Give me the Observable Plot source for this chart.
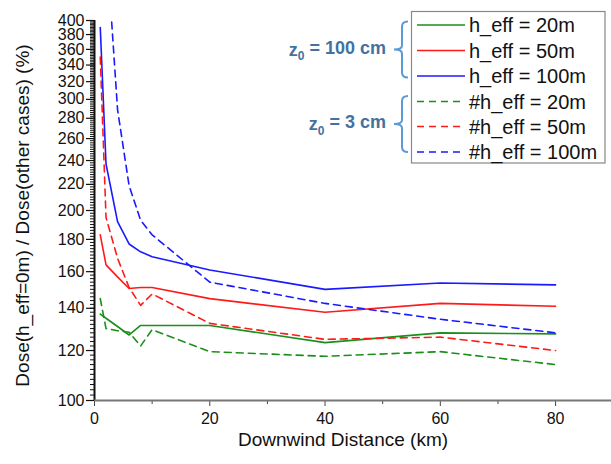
<!DOCTYPE html>
<html><head><meta charset="utf-8">
<script src="https://cdn.jsdelivr.net/npm/d3@7"></script>
<script src="https://cdn.jsdelivr.net/npm/@observablehq/plot@0.6"></script>
<style>
body{margin:0;background:#fff;}
#chart svg{font-family:Arial,"Liberation Sans",sans-serif;}
</style>
</head><body><div id="chart"></div>
<script>
// Downwind distances (km)
const distances = [1, 2, 4, 6, 8, 10, 20, 40, 60, 80];
// z0 = 100 cm (solid)
const z100_h20  = [137, 135, 131, 127, 131.5, 131.5, 131.5, 123.5, 128, 127.5];
const z100_h50  = [183, 164, 157, 150.5, 151, 151, 145, 138, 142.5, 141];
const z100_h100 = [390, 237, 192, 177, 172, 169, 161, 150, 153.5, 152.5];
// z0 = 3 cm (dashed)
const z3_h20  = [145, 130, 129, 128.3, 122, 129.5, 119.5, 117.5, 119.5, 114];
const z3_h50  = [350, 195, 168, 151, 141.5, 147.5, 132.5, 125, 126, 120];
const z3_distances_h100 = [2, 4, 6, 8, 10, 20, 40, 60, 80];
const z3_h100 = [540, 289, 219, 193, 183, 154, 142.5, 134.5, 128];

const seriesNames = ["h_eff = 20m", "h_eff = 50m", "h_eff = 100m", "#h_eff = 20m", "#h_eff = 50m", "#h_eff = 100m"];
const seriesColors = ["#1a8f1a", "#ff1a1a", "#1a1aff", "#1a8f1a", "#ff1a1a", "#1a1aff"];
const groupLabels = ["100 cm", "3 cm"];
const xTicks = [0, 20, 40, 60, 80];
const xMinorTicks = [10, 30, 50, 70];
const yTicks = d3.range(100, 401, 20);
const yMinorTicks = d3.range(100, 401, 2);
const xTitle = "Downwind Distance (km)";
const yTitle = "Dose(h_eff=0m) / Dose(other cases) (%)";

function rowsOf(name, xs, vs, solid) {
  return xs.map((d, i) => ({distance: d, value: vs[i], series: name, solid}));
}
const rows = [
  ...rowsOf(seriesNames[0], distances, z100_h20, true),
  ...rowsOf(seriesNames[1], distances, z100_h50, true),
  ...rowsOf(seriesNames[2], distances, z100_h100, true),
  ...rowsOf(seriesNames[3], distances, z3_h20, false),
  ...rowsOf(seriesNames[4], distances, z3_h50, false),
  ...rowsOf(seriesNames[5], z3_distances_h100, z3_h100, false)
];

const chart = Plot.plot({
  width: 611, height: 464,
  marginLeft: 94, marginRight: 0, marginTop: 20, marginBottom: 64,
  style: {fontFamily: "Arial, 'Liberation Sans', sans-serif", fontSize: "16px", color: "#111", background: "#fff"},
  x: {domain: [0, 89.7], label: null},
  y: {type: "log", domain: [100, 400], label: null},
  color: {domain: seriesNames, range: seriesColors},
  marks: [
    Plot.axisY(yMinorTicks, {tickSize: 4, text: null, strokeWidth: 1, stroke: "#111"}),
    Plot.axisY(yTicks, {tickSize: 8, tickPadding: 2, fontSize: 16, strokeWidth: 1.2, stroke: "#111", label: null}),
    Plot.axisX(xMinorTicks, {tickSize: 4, text: null, stroke: "#444"}),
    Plot.axisX(xTicks, {tickSize: 6, tickPadding: 6, fontSize: 16, stroke: "#444", label: null}),
    Plot.ruleX([0], {stroke: "#111", strokeWidth: 2}),
    Plot.ruleY([100], {stroke: "#777", strokeWidth: 2}),
    Plot.line(rows.filter(d => d.solid), {x: "distance", y: "value", z: "series", stroke: "series", strokeWidth: 1.6}),
    Plot.line(rows.filter(d => !d.solid), {x: "distance", y: "value", z: "series", stroke: "series", strokeWidth: 1.6, strokeDasharray: "7,5", clip: true}),
    Plot.text([xTitle], {frameAnchor: "bottom", dy: 45, dx: -10, fontSize: 19, fill: "#111"}),
    Plot.text([yTitle], {frameAnchor: "left", textAnchor: "middle", rotate: -90, dx: -72, dy: 5, fontSize: 19, fill: "#111"})
  ]
});
document.getElementById("chart").appendChild(chart);

// Legend with group annotations
const svg = d3.select(chart);
const lg = svg.append("g").attr("font-family", "Arial, 'Liberation Sans', sans-serif").attr("text-anchor", "start");
lg.append("rect").attr("x", 411.5).attr("y", 11.5).attr("width", 193.5).attr("height", 151.5)
  .attr("fill", "#fff").attr("stroke", "#888").attr("stroke-width", 1.2);
const rowY = [25, 50.5, 76, 101.5, 126.5, 152];
seriesNames.forEach((name, i) => {
  lg.append("line").attr("x1", 417).attr("x2", 465).attr("y1", rowY[i]).attr("y2", rowY[i])
    .attr("stroke", seriesColors[i]).attr("stroke-width", 1.6)
    .attr("stroke-dasharray", i < 3 ? null : "7,5");
  lg.append("text").attr("x", 469).attr("y", rowY[i]).attr("dy", "0.36em").attr("text-anchor", "start")
    .attr("font-size", 20).attr("fill", "#111").text(name);
});
// braces
function brace(top, bottom) {
  const mid = (top + bottom) / 2, xr = 408, xs = 402, xp = 394;
  return `M${xr},${top} Q${xs},${top} ${xs},${top + 5} L${xs},${mid - 4} Q${xs},${mid} ${xp},${mid} Q${xs},${mid} ${xs},${mid + 4} L${xs},${bottom - 5} Q${xs},${bottom} ${xr},${bottom}`;
}
[[21.5, 77.5], [96, 152]].forEach(([t, b], i) => {
  lg.append("path").attr("d", brace(t, b)).attr("fill", "none").attr("stroke", "#5b9bd5").attr("stroke-width", 2);
  const tx = lg.append("text").attr("x", 386).attr("y", (t + b) / 2).attr("dy", "0.36em")
    .attr("text-anchor", "end").attr("font-size", 18).attr("font-weight", "bold").attr("fill", "#44729f");
  tx.append("tspan").text("z");
  tx.append("tspan").attr("font-size", 12).attr("dy", "0.35em").text("0");
  tx.append("tspan").attr("dy", "-0.35em").text(" = " + groupLabels[i]);
});
</script>
</body></html>
